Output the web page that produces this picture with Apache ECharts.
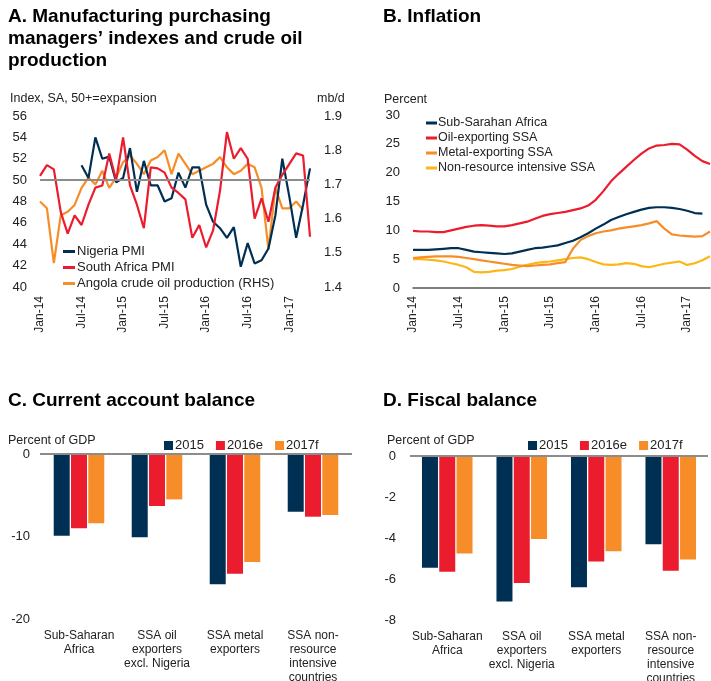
<!DOCTYPE html>
<html>
<head>
<meta charset="utf-8">
<script src="https://cdn.jsdelivr.net/npm/echarts@6/dist/echarts.min.js"></script>
<style>
  html, body { margin: 0; padding: 0; background: #fff; }
  #chart { width: 711px; height: 681px; }
</style>
</head>
<body>
<div id="chart"></div>
<script>
// ---- Panel A: PMIs (index) and Angola crude oil output (mb/d), monthly from Jan-14
const monthNames = ['Jan','Feb','Mar','Apr','May','Jun','Jul','Aug','Sep','Oct','Nov','Dec'];
const months = [];
for (let y = 14; y <= 17; y++) {
  for (let m = 0; m < 12; m++) {
    if (y === 17 && m > 3) break;
    months.push(monthNames[m] + '-' + y);
  }
}
const nigeriaPMI = [null, null, null, null, null, null,
  51.4, 50.2, 54.0, 52.0, 52.2, 49.8, 50.2, 53.0, 48.9, 51.8,
  49.5, 49.5, 48.0, 48.3, 50.7, 49.3, 51.2, 51.2, 47.7, 46.1,
  45.5, 44.6, 45.6, 41.9, 44.1, 42.2, 42.5, 43.6, 46.7, 52.0,
  48.5, 44.6, 47.7, 51.1];
const southAfricaPMI = [50.4, 51.4, 51.0, 47.0, 45.0, 46.7, 45.8, 47.7, 49.3, 49.5,
  52.5, 50.0, 54.0, 49.5, 47.7, 45.5, 51.2, 51.1, 50.7, 49.3,
  48.8, 48.2, 44.6, 45.8, 43.7, 45.3, 49.0, 54.5, 52.0, 53.0,
  52.0, 46.4, 48.3, 46.1, 49.3, 50.5, 51.5, 52.5, 52.3, 44.7];
const angolaOil = [1.65, 1.63, 1.47, 1.61, 1.62, 1.64, 1.69, 1.72, 1.70, 1.74,
  1.69, 1.72, 1.765, 1.785, 1.76, 1.73, 1.77, 1.78, 1.80, 1.73,
  1.79, 1.76, 1.73, 1.74, 1.75, 1.76, 1.78, 1.75, 1.73, 1.74,
  1.76, 1.75, 1.69, 1.51, 1.69, 1.63, 1.63, 1.65, 1.625, null];

// ---- Panel B: inflation, percent
const ssaInfl = [6.6, 6.6, 6.6, 6.7, 6.8, 6.9, 6.9, 6.6, 6.3, 6.2,
  6.1, 6.0, 5.9, 6.0, 6.3, 6.6, 6.9, 7.0, 7.2, 7.4,
  7.8, 8.2, 8.8, 9.5, 10.3, 11.0, 11.8, 12.3, 12.8, 13.2,
  13.6, 13.9, 14.0, 14.0, 13.9, 13.7, 13.4, 13.0, 12.9, null];
const oilInfl = [9.9, 9.8, 9.8, 9.7, 9.7, 10.0, 10.3, 10.6, 10.8, 10.9,
  10.8, 10.7, 10.7, 10.9, 11.2, 11.5, 12.0, 12.5, 12.8, 13.0,
  13.2, 13.5, 13.8, 14.3, 15.3, 16.8, 18.5, 19.8, 21.0, 22.2,
  23.3, 24.2, 24.7, 24.8, 25.0, 24.9, 24.0, 22.9, 22.0, 21.5];
const metalInfl = [5.2, 5.3, 5.4, 5.5, 5.5, 5.5, 5.4, 5.2, 5.0, 4.8,
  4.6, 4.4, 4.2, 4.0, 3.9, 3.8, 3.9, 4.0, 4.1, 4.3,
  4.5, 6.8, 8.3, 9.0, 9.5, 9.8, 10.0, 10.3, 10.5, 10.7,
  10.9, 11.2, 11.6, 10.3, 9.3, 9.1, 9.0, 8.9, 9.0, 9.8];
const nonResInfl = [5.0, 5.0, 4.9, 4.8, 4.6, 4.3, 4.0, 3.6, 2.8, 2.7,
  2.8, 3.0, 3.1, 3.3, 3.7, 4.0, 4.3, 4.5, 4.6, 4.8,
  5.0, 5.2, 5.3, 5.0, 4.5, 4.1, 4.0, 4.1, 4.3, 4.2,
  3.8, 3.6, 3.9, 4.2, 4.4, 4.6, 4.0, 4.3, 4.8, 5.5];

// ---- Panels C and D: balances, percent of GDP
const groups = ['Sub-Saharan\nAfrica', 'SSA oil\nexporters\nexcl. Nigeria', 'SSA metal\nexporters', 'SSA non-\nresource\nintensive\ncountries'];
const ca2015 = [-9.9, -10.1, -15.8, -7.0];
const ca2016e = [-9.0, -6.3, -14.5, -7.6];
const ca2017f = [-8.4, -5.5, -13.1, -7.4];
const fb2015 = [-5.45, -7.1, -6.4, -4.3];
const fb2016e = [-5.65, -6.2, -5.15, -5.6];
const fb2017f = [-4.75, -4.05, -4.65, -5.05];

const pmiTicks = { min: 40, max: 56, interval: 2 };
const oilTicks = { min: 1.4, max: 1.9, interval: 0.1 };

const FONT = "'Liberation Sans', Arial, sans-serif";
const NAVY = '#002f54', RED = '#eb1c2d', ORANGE = '#f78d28', GOLD = '#fdb714';
const TXT = '#222';

const chart = echarts.init(document.getElementById('chart'), null, { renderer: 'canvas' });

const titleStyle = { fontFamily: FONT, fontSize: 19, fontWeight: 'bold', color: '#000', lineHeight: 22 };
const noteStyle = { fontFamily: FONT, fontSize: 12.5, fill: TXT };

function monthLabel(idx) { return idx % 6 === 0; }

function lineSeries(name, data, color, xi, yi) {
  return {
    name, type: 'line', data, xAxisIndex: xi, yAxisIndex: yi,
    showSymbol: false, symbol: 'none', connectNulls: false,
    lineStyle: { color, width: 2.2 }, itemStyle: { color }, z: 3
  };
}
function barSeries(name, data, color, xi, yi, extra) {
  return Object.assign({
    name, type: 'bar', data, xAxisIndex: xi, yAxisIndex: yi,
    barWidth: 16, barGap: '8%', itemStyle: { color }
  }, extra || {});
}
const zeroLine = (val) => ({
  silent: true, symbol: 'none', label: { show: false },
  lineStyle: { color: '#8c8c8c', width: 2, type: 'solid' },
  data: [{ yAxis: val }]
});

const option = {
  animation: false,
  backgroundColor: '#fff',
  textStyle: { fontFamily: FONT },
  title: [
    { text: 'A. Manufacturing purchasing\nmanagers’ indexes and crude oil\nproduction', left: 8, top: 6, padding: 0, textStyle: titleStyle },
    { text: 'B. Inflation', left: 383, top: 6, padding: 0, textStyle: titleStyle },
    { text: 'C. Current account balance', left: 8, top: 390, padding: 0, textStyle: titleStyle },
    { text: 'D. Fiscal balance', left: 383, top: 390, padding: 0, textStyle: titleStyle }
  ],
  graphic: [
    { type: 'text', left: 10, top: 92, style: Object.assign({ text: 'Index, SA, 50+=expansion' }, noteStyle) },
    { type: 'text', left: 317, top: 92, style: Object.assign({ text: 'mb/d' }, noteStyle) },
    { type: 'text', left: 384, top: 93, style: Object.assign({ text: 'Percent' }, noteStyle) },
    { type: 'text', left: 8, top: 434, style: Object.assign({ text: 'Percent of GDP' }, noteStyle) },
    { type: 'text', left: 387, top: 434, style: Object.assign({ text: 'Percent of GDP' }, noteStyle) }
  ],
  legend: [
    {
      data: ['Nigeria PMI', 'South Africa PMI', 'Angola crude oil production (RHS)'],
      orient: 'vertical', left: 58, top: 240, itemGap: 3,
      icon: 'rect', itemWidth: 12, itemHeight: 3,
      textStyle: { fontFamily: FONT, fontSize: 13, color: TXT, padding: [0, 0, 0, -3] }
    },
    {
      data: ['Sub-Sarahan Africa', 'Oil-exporting SSA', 'Metal-exporting SSA', 'Non-resource intensive SSA'],
      orient: 'vertical', left: 421, top: 111, itemGap: 1,
      icon: 'rect', itemWidth: 11, itemHeight: 3,
      textStyle: { fontFamily: FONT, fontSize: 12.5, color: TXT, lineHeight: 14, padding: [0, 0, 0, -4] }
    },
    {
      data: ['2015', '2016e', '2017f'],
      left: 159, top: 434, itemGap: 12,
      icon: 'rect', itemWidth: 9, itemHeight: 9,
      textStyle: { fontFamily: FONT, fontSize: 13, color: TXT, padding: [0, 0, 0, -3] }
    },
    {
      data: ['2015', '2016e', '2017f'],
      left: 523, top: 434, itemGap: 12,
      icon: 'rect', itemWidth: 9, itemHeight: 9,
      textStyle: { fontFamily: FONT, fontSize: 13, color: TXT, padding: [0, 0, 0, -3] }
    }
  ],
  grid: [
    { left: 40, top: 116, width: 270, height: 171, outerBoundsMode: 'none' },
    { left: 413, top: 115, width: 297, height: 173, outerBoundsMode: 'none' },
    { left: 40, top: 454, width: 312, height: 165, outerBoundsMode: 'none' },
    { left: 410, top: 456, width: 298, height: 164, outerBoundsMode: 'none' }
  ],
  xAxis: [
    {
      gridIndex: 0, type: 'category', data: months, boundaryGap: false,
      axisLine: { show: false }, axisTick: { show: false },
      axisLabel: { interval: 0, formatter: (v, i) => monthLabel(i) ? v : '', rotate: 90, margin: 9,
        fontFamily: FONT, fontSize: 12, color: TXT }
    },
    {
      gridIndex: 1, type: 'category', data: months, boundaryGap: false,
      axisLine: { show: true, lineStyle: { color: '#555', width: 1.5 } }, axisTick: { show: false },
      axisLabel: { interval: 0, formatter: (v, i) => monthLabel(i) ? v : '', rotate: 90, margin: 8,
        fontFamily: FONT, fontSize: 12, color: TXT }
    },
    {
      gridIndex: 2, type: 'category', data: groups,
      axisLine: { show: false }, axisTick: { show: false },
      axisLabel: { interval: 0, margin: 10, fontFamily: FONT, fontSize: 12, lineHeight: 14, color: TXT }
    },
    {
      gridIndex: 3, type: 'category', data: groups,
      axisLine: { show: false }, axisTick: { show: false },
      axisLabel: { interval: 0, margin: 10, fontFamily: FONT, fontSize: 12, lineHeight: 14, color: TXT }
    }
  ],
  yAxis: [
    {
      gridIndex: 0, type: 'value', min: pmiTicks.min, max: pmiTicks.max, interval: pmiTicks.interval,
      splitLine: { show: false }, axisLine: { show: false }, axisTick: { show: false },
      axisLabel: { margin: 13, fontFamily: FONT, fontSize: 13, color: TXT }
    },
    {
      gridIndex: 0, type: 'value', position: 'right', min: oilTicks.min, max: oilTicks.max, interval: oilTicks.interval,
      splitLine: { show: false }, axisLine: { show: false }, axisTick: { show: false },
      axisLabel: { margin: 14, fontFamily: FONT, fontSize: 13, color: TXT, formatter: v => v.toFixed(1) }
    },
    {
      gridIndex: 1, type: 'value', min: 0, max: 30, interval: 5,
      splitLine: { show: false }, axisLine: { show: false }, axisTick: { show: false },
      axisLabel: { margin: 13, fontFamily: FONT, fontSize: 13, color: TXT }
    },
    {
      gridIndex: 2, type: 'value', min: -20, max: 0, interval: 10,
      splitLine: { show: false }, axisLine: { show: false }, axisTick: { show: false },
      axisLabel: { margin: 10, fontFamily: FONT, fontSize: 13, color: TXT }
    },
    {
      gridIndex: 3, type: 'value', min: -8, max: 0, interval: 2,
      splitLine: { show: false }, axisLine: { show: false }, axisTick: { show: false },
      axisLabel: { margin: 14, fontFamily: FONT, fontSize: 13, color: TXT }
    }
  ],
  series: [
    lineSeries('Angola crude oil production (RHS)', angolaOil, ORANGE, 0, 1),
    Object.assign(lineSeries('Nigeria PMI', nigeriaPMI, NAVY, 0, 0), { markLine: zeroLine(50) }),
    lineSeries('South Africa PMI', southAfricaPMI, RED, 0, 0),

    lineSeries('Non-resource intensive SSA', nonResInfl, GOLD, 1, 2),
    lineSeries('Metal-exporting SSA', metalInfl, ORANGE, 1, 2),
    lineSeries('Sub-Sarahan Africa', ssaInfl, NAVY, 1, 2),
    lineSeries('Oil-exporting SSA', oilInfl, RED, 1, 2),

    barSeries('2015', ca2015, NAVY, 2, 3, { markLine: zeroLine(0) }),
    barSeries('2016e', ca2016e, RED, 2, 3),
    barSeries('2017f', ca2017f, ORANGE, 2, 3),

    barSeries('2015', fb2015, NAVY, 3, 4, { markLine: zeroLine(0) }),
    barSeries('2016e', fb2016e, RED, 3, 4),
    barSeries('2017f', fb2017f, ORANGE, 3, 4)
  ]
};

chart.setOption(option);
</script>
</body>
</html>
